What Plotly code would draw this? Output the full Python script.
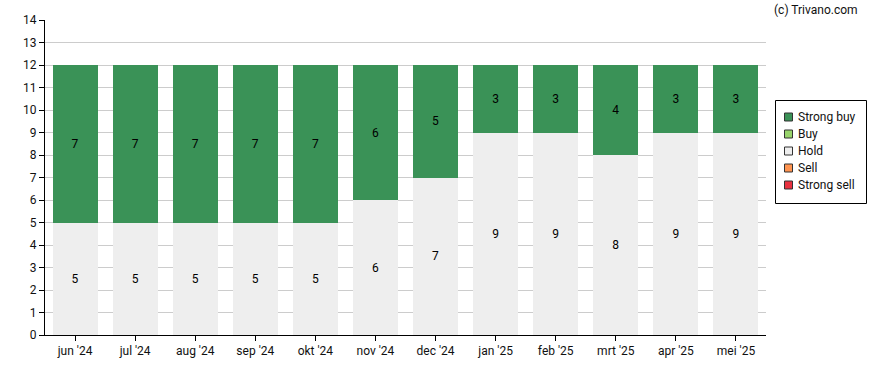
import plotly.graph_objects as go

months = ["jun '24", "jul '24", "aug '24", "sep '24", "okt '24", "nov '24",
          "dec '24", "jan '25", "feb '25", "mrt '25", "apr '25", "mei '25"]
strong_buy = [7, 7, 7, 7, 7, 6, 5, 3, 3, 4, 3, 3]
buy = [0] * 12
hold = [5, 5, 5, 5, 5, 6, 7, 9, 9, 8, 9, 9]
sell = [0] * 12
strong_sell = [0] * 12

series = [
    ("Strong sell", strong_sell, "#e8313f"),
    ("Sell", sell, "#ff9450"),
    ("Hold", hold, "#eeeeee"),
    ("Buy", buy, "#98d46c"),
    ("Strong buy", strong_buy, "#3a9257"),
]

W, H = 888, 370
L, R, T, B = 45, 122, 20, 35
PW, PH = W - L - R, H - T - B


def px(x):
    return (x - L) / PW


def py(y):
    return (H - B - y) / PH


fig = go.Figure()
for name, vals, col in series:
    fig.add_trace(go.Bar(
        x=months, y=vals, name=name,
        marker=dict(color=col, line=dict(width=0)),
        text=[str(v) if v else "" for v in vals],
        textposition="inside", insidetextanchor="middle",
        textfont=dict(color="black", size=12, family="Roboto"),
        hoverinfo="skip",
    ))

fig.update_layout(
    barmode="stack", bargap=0.25,
    width=W, height=H,
    margin=dict(l=L, r=R, t=T, b=B),
    plot_bgcolor="white", paper_bgcolor="white",
    font=dict(family="Roboto", size=12, color="#111111"),
    showlegend=False,
    uniformtext=dict(mode="show", minsize=8),
)
fig.update_yaxes(range=[0, 14], dtick=1, showgrid=True, gridcolor="#cccccc",
                 showline=True, linecolor="black", ticks="outside", ticklen=5,
                 tickcolor="black", zeroline=False, tickfont=dict(size=12),
                 automargin=False)
fig.update_xaxes(showline=True, linecolor="black", ticks="outside", ticklen=5,
                 tickcolor="black", tickfont=dict(size=12), automargin=False)

# legend box (drawn manually to match the compact spacing)
fig.add_shape(type="rect", xref="paper", yref="paper",
              x0=px(775.5), x1=px(866.5), y0=py(203.5), y1=py(100.5),
              line=dict(color="black", width=1), fillcolor="white")
for i, (name, vals, col) in enumerate(reversed(series)):
    cy = 117 + i * 17
    fig.add_shape(type="rect", xref="paper", yref="paper",
                  x0=px(784.5), x1=px(792.5), y0=py(cy + 4), y1=py(cy - 4),
                  line=dict(color="#333333", width=1), fillcolor=col)
    fig.add_annotation(text=name, xref="paper", yref="paper",
                       x=px(796), y=py(cy), xanchor="left", yanchor="middle",
                       showarrow=False, font=dict(size=12, color="#111111"))

fig.add_annotation(text="(c) Trivano.com", xref="paper", yref="paper",
                   x=px(772), y=py(10), xanchor="left", yanchor="middle",
                   showarrow=False, font=dict(size=12))
fig.write_html("out.html", config={"responsive": False, "displayModeBar": False},
               post_script="document.body.style.margin='0';document.body.style.overflow='hidden';")
